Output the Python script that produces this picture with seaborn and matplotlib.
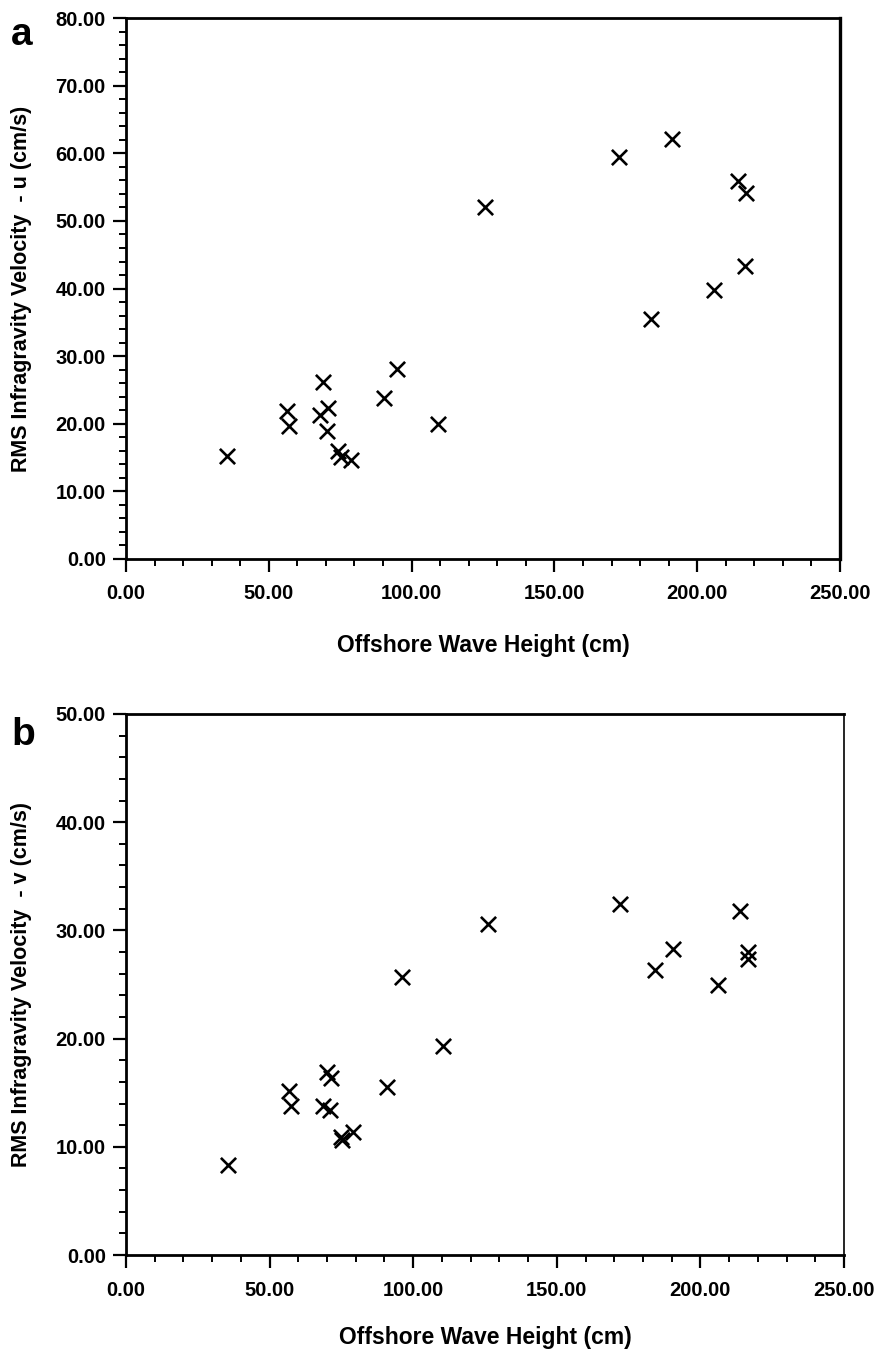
import matplotlib
matplotlib.use("Agg")
import matplotlib.pyplot as plt
import seaborn as sns
import pandas as pd
from matplotlib.ticker import MultipleLocator, FormatStrFormatter

# Panel a data
height_a = [35.3, 56.5, 57.1, 67.9, 68.9, 70.3, 70.8, 74.3, 75.2, 78.7, 90.3,
            95.0, 109.4, 125.7, 172.6, 183.7, 191.1, 205.9, 214.4, 216.7, 217.1]
u_rms = [15.2, 21.8, 19.7, 21.3, 26.1, 18.9, 22.3, 15.9, 15.1, 14.6, 23.8,
         28.1, 19.9, 52.1, 59.5, 35.5, 62.1, 39.8, 55.9, 43.4, 54.2]

# Panel b data
height_b = [35.6, 56.9, 57.5, 68.5, 69.9, 71.0, 71.4, 75.0, 75.3, 79.1, 91.0,
            96.0, 110.3, 126.2, 172.0, 184.2, 190.6, 206.0, 213.8, 216.7, 216.7]
v_rms = [8.3, 15.2, 13.8, 13.8, 16.9, 13.4, 16.4, 10.9, 10.6, 11.4, 15.5,
         25.7, 19.3, 30.6, 32.4, 26.3, 28.3, 25.0, 31.8, 28.0, 27.4]

xlabel = "Offshore Wave Height (cm)"
ylabel_a = "RMS Infragravity Velocity  - u (cm/s)"
ylabel_b = "RMS Infragravity Velocity  - v (cm/s)"

sns.set_style("ticks")
plt.rcParams['font.family'] = ['Liberation Sans', 'DejaVu Sans']
plt.rcParams['font.weight'] = 'bold'
plt.rcParams['text.color'] = 'black'
plt.rcParams['axes.labelcolor'] = 'black'
plt.rcParams['xtick.color'] = 'black'
plt.rcParams['ytick.color'] = 'black'

fig = plt.figure(figsize=(8.75, 13.53), dpi=100)
ax_a = fig.add_axes([0.144, 0.587, 0.816, 0.3995])
ax_b = fig.add_axes([0.144, 0.0724, 0.8206, 0.3999])

df_a = pd.DataFrame({"h": height_a, "val": u_rms})
df_b = pd.DataFrame({"h": height_b, "val": v_rms})

for ax, df, ylab, ymax, rthin, xlab_y in [
        (ax_a, df_a, ylabel_a, 80, False, -87 / 540.0),
        (ax_b, df_b, ylabel_b, 50, True, -82 / 541.0)]:
    sns.scatterplot(data=df, x="h", y="val", ax=ax, marker="x", color="black",
                    s=120, linewidth=1.9, legend=False)
    ax.set_xlim(0, 250)
    ax.set_ylim(0, ymax)
    ax.xaxis.set_major_locator(MultipleLocator(50))
    ax.xaxis.set_minor_locator(MultipleLocator(10))
    ax.yaxis.set_major_locator(MultipleLocator(10))
    ax.yaxis.set_minor_locator(MultipleLocator(2))
    ax.xaxis.set_major_formatter(FormatStrFormatter("%.2f"))
    ax.yaxis.set_major_formatter(FormatStrFormatter("%.2f"))
    ax.tick_params(axis="both", which="major", length=9.5, width=1.6,
                   direction="out", labelsize=14.5, colors="black")
    ax.tick_params(axis="both", which="minor", length=5, width=1.4,
                   direction="out", colors="black")
    ax.tick_params(axis="x", which="major", pad=9)
    ax.tick_params(axis="y", which="major", pad=5)
    for lbl in ax.get_xticklabels() + ax.get_yticklabels():
        lbl.set_fontweight("bold")
    for side in ["left", "bottom", "top", "right"]:
        ax.spines[side].set_visible(True)
        ax.spines[side].set_color("black")
        ax.spines[side].set_linewidth(2.0)
    if rthin:
        ax.spines["right"].set_linewidth(1.2)
    else:
        ax.spines["right"].set_linewidth(2.4)
    ax.set_xlabel(xlabel, fontsize=16.5, fontweight="bold", color="black")
    ax.set_ylabel(ylab, fontsize=15.5, fontweight="bold", color="black")
    ax.xaxis.label.set_verticalalignment("center")
    ax.yaxis.label.set_verticalalignment("center")
    ax.xaxis.set_label_coords(0.5, xlab_y)
    ax.yaxis.set_label_coords(-0.146, 0.5)
    ax.set_facecolor("white")

fig.text(22 / 875, 1 - 35 / 1353, "a", fontsize=28, fontweight="bold",
         ha="center", va="center", color="black")
fig.text(23 / 875, 1 - 735 / 1353, "b", fontsize=28, fontweight="bold",
         ha="center", va="center", color="black")

fig.savefig("out.png", dpi=100, facecolor="white")
